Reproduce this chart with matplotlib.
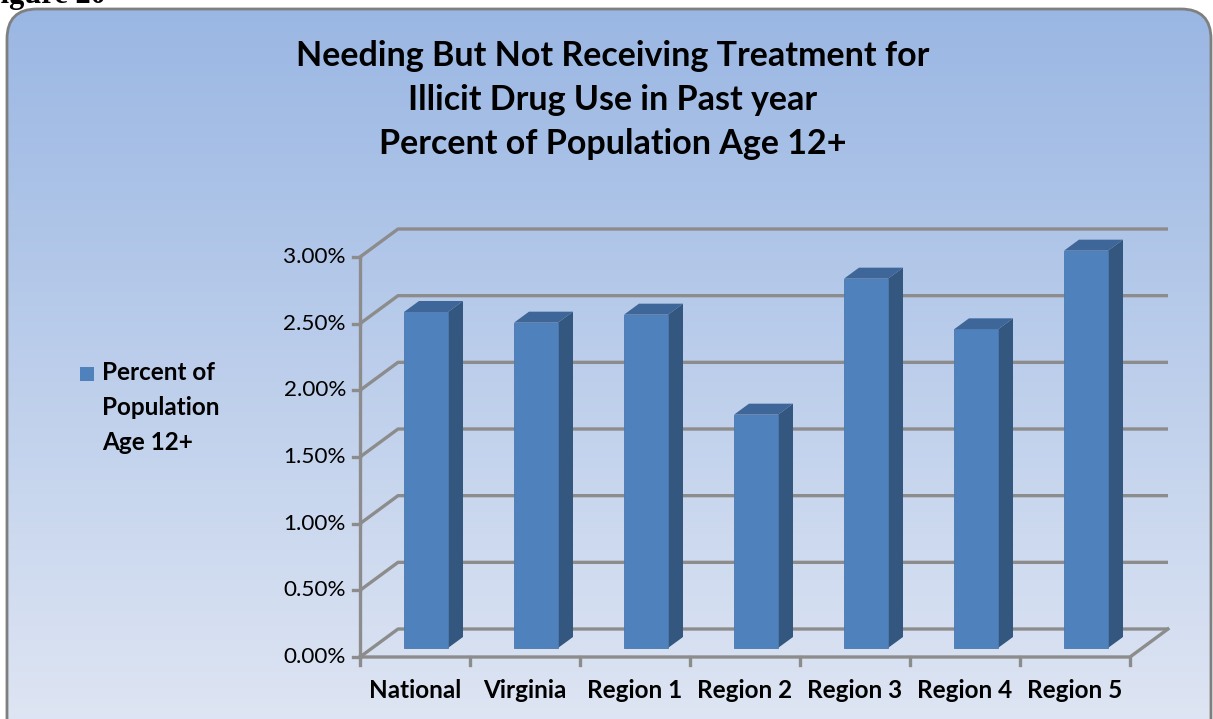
import numpy as np
import matplotlib
matplotlib.use("Agg")
import matplotlib.pyplot as plt
from matplotlib.patches import FancyBboxPatch, Polygon, Rectangle

# --- data ---------------------------------------------------------------
categories = ["National", "Virginia", "Region 1", "Region 2", "Region 3", "Region 4", "Region 5"]
values = [2.52, 2.44, 2.50, 1.75, 2.77, 2.39, 2.98]          # percent
yticks = [0.0, 0.5, 1.0, 1.5, 2.0, 2.5, 3.0]
ytick_labels = ["0.00%", "0.50%", "1.00%", "1.50%", "2.00%", "2.50%", "3.00%"]
title_lines = ["Needing But Not Receiving Treatment for",
               "Illicit Drug Use in Past year",
               "Percent of Population Age 12+"]
series_name = "Percent of\nPopulation\nAge 12+"

W, H = 1213, 719
fig = plt.figure(figsize=(W / 100, H / 100), dpi=100)
fig.patch.set_facecolor("white")


def fx(px):
    return px / W


def fy(py):
    return 1 - py / H


# --- rounded panel with vertical gradient --------------------------------
bg = fig.add_axes([0, 0, 1, 1], zorder=0)
bg.set_xlim(0, W)
bg.set_ylim(H, 0)
bg.axis("off")
top_c = np.array([0.600, 0.714, 0.890])
bot_c = np.array([0.870, 0.898, 0.953])
t = np.linspace(0, 1, 256)[:, None]
grad = (top_c[None, :] * (1 - t) + bot_c[None, :] * t)[:, None, :]
img = bg.imshow(grad, extent=[0, W, H, 0], aspect="auto", zorder=1)
panel = FancyBboxPatch((7, 9), 1204, 740, boxstyle="round,pad=0,rounding_size=30",
                       facecolor="none", edgecolor="#7f7f7f", linewidth=2.0, zorder=2)
bg.add_patch(panel)
img.set_clip_path(panel)

# caption text partly above the page edge
fig.text(fx(-18), fy(3), "Figure 20", fontsize=22, fontweight="bold",
         family="Liberation Serif", ha="left", va="baseline", color="black")

# --- title ---------------------------------------------------------------
for line, yc in zip(title_lines, [56, 100, 144]):
    fig.text(fx(613), fy(yc), line, fontsize=24.5, fontweight="bold", family="Lato",
             ha="center", va="center", color="black")

# --- plot area (front plane) --------------------------------------------
x0, x1, yb, yt = 360, 1130, 657, 257
ax = fig.add_axes([fx(x0), fy(yb), (x1 - x0) / W, (yb - yt) / H], zorder=3)
ax.set_xlim(-0.5, len(categories) - 0.5)
ax.set_ylim(0, 3.0)
ax.axis("off")

px_per_cat = (x1 - x0) / len(categories)
px_per_pct = (yb - yt) / 3.0
DX = 38 / px_per_cat          # full depth shift, category units
DY = 28 / px_per_pct          # full depth shift, percent units

grid_c = "#8c8c8c"
lw = 2.4
xl, xr = -0.5, len(categories) - 0.5

# side-wall and back-wall gridlines
for v in yticks:
    ax.plot([xl, xl + DX, xr + DX], [v, v + DY, v + DY], color=grid_c, lw=lw,
            clip_on=False, solid_capstyle="butt", zorder=1)
# floor outline
ax.plot([xl, xr, xr + DX], [0, 0, DY], color=grid_c, lw=lw, clip_on=False, zorder=1)
# value axis
ax.plot([xl, xl], [0, 3.0], color=grid_c, lw=lw, clip_on=False, zorder=2)
for v, lab in zip(yticks, ytick_labels):
    ax.plot([xl - 7 / px_per_cat, xl], [v, v], color=grid_c, lw=lw, clip_on=False)
    ax.text(xl - 14 / px_per_cat, v, lab, ha="right", va="center", fontsize=16.2,
            family="Lato", color="black")
# category ticks and labels
for k in range(len(categories) + 1):
    xk = xl + k
    ax.plot([xk, xk], [0, -8 / px_per_pct], color=grid_c, lw=lw, clip_on=False)
for i, name in enumerate(categories):
    ax.text(i, -34 / px_per_pct, name, ha="center", va="center", fontsize=17.5,
            fontweight="bold", family="Lato", color="black")

# --- 3-D style bars ------------------------------------------------------
front_c = "#4f81bd"
side_c = "#34577f"
top_face_c = "#3e6698"
off_y = 9 / px_per_pct         # bar floor sits slightly behind the front plane
bw = 44 / px_per_cat
ddx = 15 / px_per_cat          # bar depth
ddy = 11 / px_per_pct
for i, v in enumerate(values):
    left = i - 0.1
    bot = off_y
    top = off_y + v
    right = left + bw
    ax.add_patch(Polygon([[right, bot], [right + ddx, bot + ddy], [right + ddx, top + ddy],
                          [right, top]], closed=True, facecolor=side_c,
                         edgecolor="none", zorder=4, clip_on=False))
    ax.add_patch(Polygon([[left, top], [left + ddx, top + ddy], [right + ddx, top + ddy],
                          [right, top]], closed=True, facecolor=top_face_c,
                         edgecolor="none", zorder=4, clip_on=False))
    ax.add_patch(Rectangle((left, bot), bw, v, facecolor=front_c, edgecolor="#4a78b0",
                           lw=0.6, zorder=5, clip_on=False))

# --- legend --------------------------------------------------------------
fig.patches.append(Rectangle((fx(80), fy(381)), 14 / W, 14 / H, transform=fig.transFigure,
                             facecolor=front_c, edgecolor="none", zorder=5))
fig.text(fx(102), fy(361), series_name, ha="left", va="top", fontsize=17.5,
         fontweight="bold", family="Lato", linespacing=1.62, color="black")

fig.savefig("out.png", dpi=100)
